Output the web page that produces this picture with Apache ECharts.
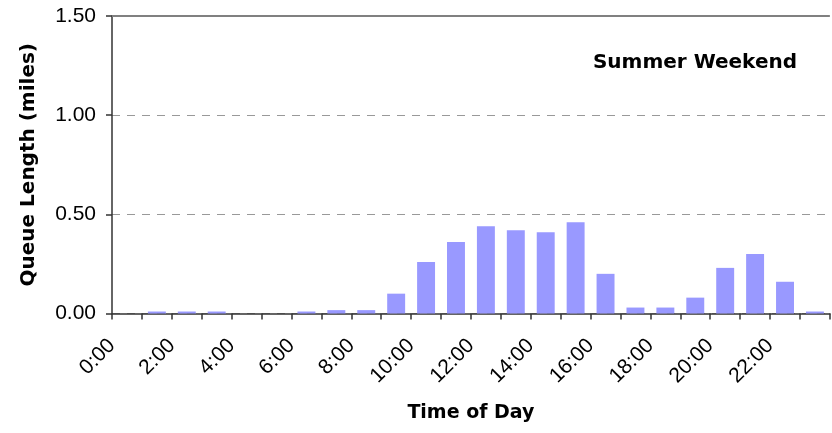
<!DOCTYPE html>
<html>
<head>
<meta charset="utf-8">
<script src="https://cdn.jsdelivr.net/npm/echarts@6/dist/echarts.min.js"></script>
<style>html,body{margin:0;padding:0;background:#fff}#c{width:832px;height:433px}</style>
</head>
<body>
<div id="c"></div>
<script>
// ---- data ----
const hours = ['0:00','1:00','2:00','3:00','4:00','5:00','6:00','7:00','8:00','9:00','10:00','11:00',
               '12:00','13:00','14:00','15:00','16:00','17:00','18:00','19:00','20:00','21:00','22:00','23:00'];
const hourBoundaryLabels = hours.concat(['']);
const queueMiles = [0, 0.01, 0.01, 0.01, 0, 0, 0.01, 0.017, 0.017, 0.10, 0.26, 0.36,
                    0.44, 0.42, 0.41, 0.46, 0.20, 0.03, 0.03, 0.08, 0.23, 0.30, 0.16, 0.01];
const yTickLabels = ['0.00', '0.50', '1.00', '1.50'];
const chartTitle = 'Summer Weekend';
const xTitle = 'Time of Day';
const yTitle = 'Queue Length (miles)';

const chart = echarts.init(document.getElementById('c'), null, {renderer: 'canvas'});
const axisColor = '#333';
chart.setOption({
  animation: false,
  backgroundColor: '#fff',
  title: {
    text: chartTitle, right: 35, top: 53, padding: 0,
    textStyle: {fontFamily: 'DejaVu Sans', fontWeight: 'bold', fontSize: 20, color: '#000'}
  },
  grid: {left: 112, right: -2, top: 16, bottom: 119.5, containLabel: false},
  xAxis: [{
    type: 'category', data: hours, boundaryGap: true, position: 'bottom',
    axisLine: {show: true, lineStyle: {color: axisColor, width: 1.5}},
    axisTick: {show: true, interval: 0, length: 6, lineStyle: {color: axisColor, width: 1.5}},
    axisLabel: {show: false},
    splitLine: {show: false},
    name: xTitle, nameLocation: 'middle', nameGap: 90,
    nameTextStyle: {fontFamily: 'DejaVu Sans', fontWeight: 'bold', fontSize: 19, color: '#000', verticalAlign: 'top'}
  }, {
    type: 'category', data: hourBoundaryLabels, boundaryGap: false, position: 'bottom',
    axisLine: {show: false}, axisTick: {show: false}, splitLine: {show: false},
    axisLabel: {interval: 1, rotate: 45, margin: 29, fontSize: 21,
                fontFamily: 'Liberation Sans, Arial', color: '#000'}
  }],
  yAxis: {
    type: 'value', min: 0, max: 1.5, interval: 0.5,
    axisLine: {show: true, lineStyle: {color: axisColor, width: 1.5}},
    axisTick: {show: true, length: 6, lineStyle: {color: axisColor, width: 1.5}},
    axisLabel: {margin: 16, fontSize: 21, fontFamily: 'Liberation Sans, Arial', color: '#000',
                formatter: (v) => yTickLabels[Math.round(v / 0.5)]},
    splitLine: {show: true, lineStyle: {color: '#999', width: 1, type: [8, 7]}},
    name: yTitle, nameLocation: 'middle', nameGap: 73, nameRotate: 90,
    nameTextStyle: {fontFamily: 'DejaVu Sans', fontWeight: 'bold', fontSize: 20, color: '#000'}
  },
  series: [{
    type: 'bar', xAxisIndex: 0, yAxisIndex: 0, data: queueMiles,
    barCategoryGap: '40%',
    itemStyle: {color: '#9999FF'},
    markLine: {
      silent: true, symbol: 'none', label: {show: false},
      lineStyle: {color: '#808080', width: 2, type: 'solid'},
      data: [{yAxis: 1.5}]
    }
  }]
});
</script>
</body>
</html>
